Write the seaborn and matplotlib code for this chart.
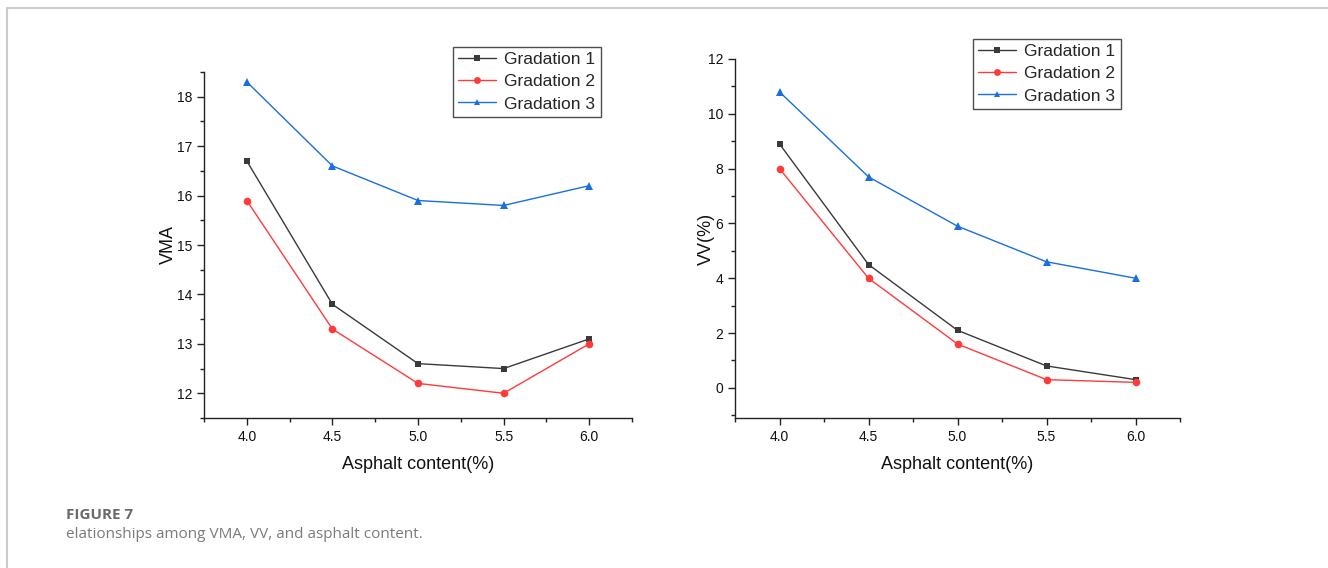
import matplotlib
matplotlib.use("Agg")
import matplotlib.pyplot as plt
import seaborn as sns
import pandas as pd
from matplotlib.ticker import MultipleLocator
from matplotlib.lines import Line2D

asphalt = [4.0, 4.5, 5.0, 5.5, 6.0]
series_names = ["Gradation 1", "Gradation 2", "Gradation 3"]
vma_g1 = [16.7, 13.8, 12.6, 12.5, 13.1]
vma_g2 = [15.9, 13.3, 12.2, 12.0, 13.0]
vma_g3 = [18.3, 16.6, 15.9, 15.8, 16.2]
vv_g1 = [8.9, 4.5, 2.1, 0.8, 0.3]
vv_g2 = [8.0, 4.0, 1.6, 0.3, 0.2]
vv_g3 = [10.8, 7.7, 5.9, 4.6, 4.0]

sns.set_theme(style="ticks")
plt.rcParams['font.family'] = ['Liberation Sans', 'DejaVu Sans']

colors = ["#3a3a3a", "#ff3a3a", "#1a6ee0"]
markers = ["s", "o", "^"]

def make_df(a, b, c):
    rows = []
    for name, vals in zip(series_names, [a, b, c]):
        for x, y in zip(asphalt, vals):
            rows.append({"x": x, "y": y, "series": name})
    return pd.DataFrame(rows)

df_vma = make_df(vma_g1, vma_g2, vma_g3)
df_vv = make_df(vv_g1, vv_g2, vv_g3)

fig = plt.figure(figsize=(13.28, 5.68), dpi=100)
W, H = 1328, 568
ax1 = fig.add_axes([204 / W, 1 - 418 / H, (632 - 204) / W, (418 - 72) / H])
ax2 = fig.add_axes([735 / W, 1 - 418 / H, (1180 - 735) / W, (418 - 59) / H])

def draw(ax, df, ylim, ymaj, ymin, ylabel, ylabelpad, legend_loc):
    sns.lineplot(data=df, x="x", y="y", hue="series", style="series",
                 palette=colors, markers=markers, dashes=False,
                 markersize=5.5, markeredgewidth=0, linewidth=1.0,
                 ax=ax, legend=False)
    for ln in ax.lines:
        if ln.get_marker() == "s":
            ln.set_markersize(4.6)
    ax.set_xlim(3.75, 6.25)
    ax.set_ylim(*ylim)
    ax.xaxis.set_major_locator(MultipleLocator(0.5))
    ax.xaxis.set_minor_locator(MultipleLocator(0.25))
    ax.yaxis.set_major_locator(MultipleLocator(ymaj))
    ax.yaxis.set_minor_locator(MultipleLocator(ymin))
    ax.xaxis.set_major_formatter(matplotlib.ticker.FormatStrFormatter('%.1f'))
    for s in ["top", "right"]:
        ax.spines[s].set_visible(False)
    for s in ["left", "bottom"]:
        ax.spines[s].set_linewidth(1.0)
        ax.spines[s].set_color("#222222")
    ax.tick_params(axis="both", which="major", direction="out", length=5,
                   width=1.0, labelsize=10, colors="#222222", labelcolor="#111111")
    ax.tick_params(axis="both", which="minor", direction="out", length=3,
                   width=1.0, colors="#222222")
    ax.set_xlabel("Asphalt content(%)", fontsize=13, color="#111111", labelpad=9)
    ax.set_ylabel(ylabel, fontsize=13, color="#111111", labelpad=ylabelpad)
    handles = [Line2D([0], [0], color=c, marker=m, markersize=(4.2 if m == "s" else 5),
                      markeredgewidth=0, linewidth=1.0)
               for c, m in zip(colors, markers)]
    leg = ax.legend(handles, series_names, loc="upper left",
                    bbox_to_anchor=legend_loc, fontsize=12.5, frameon=True,
                    fancybox=False, edgecolor="#222222", handlelength=2.2,
                    handletextpad=0.45, borderpad=0.3, labelspacing=0.4,
                    borderaxespad=0)
    leg.get_frame().set_linewidth(1.0)
    return leg

draw(ax1, df_vma, (11.5, 18.5), 1, 0.5, "VMA", 0,
     ((453 - 204) / (632 - 204), (418 - 47) / (418 - 72)))
draw(ax2, df_vv, (-1.1, 12), 2, 1, "VV(%)", -5,
     ((973 - 735) / (1180 - 735), (418 - 39) / (418 - 59)))

# page border
fig.add_artist(Line2D([6.5 / W, 6.5 / W], [0, 1 - 7.5 / H], transform=fig.transFigure,
                      color="#cccccc", linewidth=1.5))
fig.add_artist(Line2D([6.5 / W, 1], [1 - 7.5 / H, 1 - 7.5 / H], transform=fig.transFigure,
                      color="#cccccc", linewidth=1.5))

fig.text(66 / W, 1 - 515 / H, "FIGURE 7", fontsize=11, fontweight="bold",
         color="#6a6a6a", family=["Open Sans", "DejaVu Sans"], va="center")
fig.text(66 / W, 1 - 534 / H, "elationships among VMA, VV, and asphalt content.",
         fontsize=11, color="#7a7a7a", family=["Open Sans", "DejaVu Sans"], va="center")

fig.savefig("out.png", dpi=100)
